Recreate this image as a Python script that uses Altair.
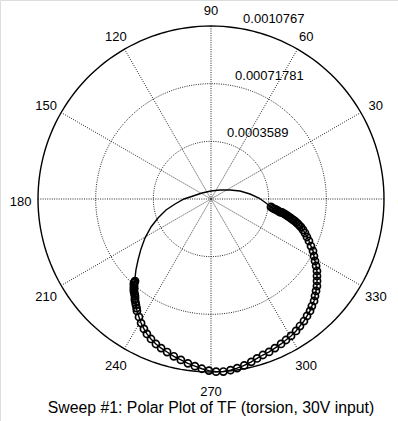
import altair as alt
import numpy as np
import pandas as pd

# Polar plot of the measured transfer function (torsion sweep)
R_MAX = 0.0010767
RING_VALUES = [0.0003589, 0.00071781, 0.0010767]
RING_LABELS = ["0.0003589", "0.00071781", "0.0010767"]
ANGLE_TICKS = [0, 30, 60, 90, 120, 150, 180, 210, 240, 270, 300, 330]
SPOKE_ANGLES = [0, 30, 60, 90, 120, 150]

# Sweep points drawn with markers: phase (deg) and magnitude (x 1e-4)
marked_phase = [
    -7.6, -8.3, -9.0, -9.2, -9.5, -10.1, -10.7, -10.8, -11.0, -11.5,
    -12.0, -12.5, -13.0, -13.4, -13.9, -14.3, -14.7, -15.4, -16.0, -16.7,
    -17.3, -18.6, -19.9, -21.6, -23.2, -25.2, -27.0, -29.0, -30.8, -32.5,
    -34.2, -36.0, -37.7, -39.4, -41.2, -43.0, -44.7, -46.7, -48.5, -50.6,
    -52.7, -55.0, -57.2, -59.7, -62.0, -64.2, -66.8, -69.2, -71.6, -73.9,
    -76.1, -78.7, -81.2, -83.5, -85.9, -88.3, -90.7, -93.1, -95.5, -98.0,
    -100.6, -103.3, -106.0, -108.5, -110.8, -113.2, -115.4, -117.3, -119.4, -121.4,
    -123.5, -124.3, -125.3, -126.1, -127.0, -127.5, -128.1, -128.8, -129.6, -130.1,
    -130.6, -131.0, -131.5, -132.0, -132.5, -132.7, -132.8,
]
marked_mag = [
    3.765, 3.871, 3.971, 4.066, 4.164, 4.268, 4.369, 4.466, 4.562, 4.668,
    4.774, 4.877, 4.979, 5.087, 5.191, 5.298, 5.402, 5.519, 5.632, 5.750,
    5.869, 6.043, 6.224, 6.423, 6.634, 6.877, 7.126, 7.325, 7.537, 7.755,
    7.973, 8.153, 8.340, 8.533, 8.688, 8.850, 9.024, 9.155, 9.304, 9.416,
    9.547, 9.653, 9.771, 9.871, 9.939, 10.020, 10.095, 10.182, 10.232, 10.330,
    10.440, 10.560, 10.650, 10.720, 10.767, 10.750, 10.680, 10.580, 10.450, 10.330,
    10.190, 10.060, 9.908, 9.784, 9.653, 9.479, 9.298, 9.099, 8.863, 8.601,
    8.352, 8.216, 8.085, 7.973, 7.867, 7.767, 7.668, 7.593, 7.512, 7.444,
    7.369, 7.300, 7.232, 7.163, 7.095, 7.027, 6.958,
]

# Remaining part of the loop, drawn as a plain line
line_phase = [
    -133.9, -136.6, -140.1, -144.5, -149.4, -155.0, -160.3, -166.3, -172.1, 180.0,
    170.5, 146.3, 90.0, 45.0, 25.3, 15.4, 7.3, 1.2, -4.2,
]
line_mag = [
    6.821, 6.429, 5.919, 5.352, 4.774, 4.120, 3.504, 2.882, 2.259, 1.680,
    1.133, 0.672, 0.498, 0.790, 1.307, 1.873, 2.446, 2.987, 3.429,
]

TITLE = "Sweep #1: Polar Plot of TF (torsion, 30V input)"
FONT = "Liberation Sans"

# Canvas geometry (pixels)
W, H = 398, 421
CX, CY, RPX = 211, 199, 173
k = R_MAX / RPX
xdom = [-CX * k, (W - CX) * k]
ydom = [-(H - CY) * k, CY * k]
X = alt.X("x:Q", scale=alt.Scale(domain=xdom, nice=False, zero=False), axis=None)
Y = alt.Y("y:Q", scale=alt.Scale(domain=ydom, nice=False, zero=False), axis=None)
X2 = alt.X2("x2:Q")
Y2 = alt.Y2("y2:Q")

to_xy = dict(
    x="datum.r * cos(datum.a * PI / 180)",
    y="datum.r * sin(datum.a * PI / 180)",
)

GRID = dict(color="#111", strokeWidth=0.9, strokeDash=[1, 1.3])

# Grid rings
grid_angles = np.arange(0, 361, 2)
rings = pd.DataFrame(
    [{"ring": i, "r": rv, "a": a} for i, rv in enumerate(RING_VALUES) for a in grid_angles]
)
inner_rings = (
    alt.Chart(rings[rings.ring < 2])
    .transform_calculate(**to_xy)
    .mark_line(**GRID)
    .encode(x=X, y=Y, detail="ring:N", order="a:Q")
)
outer_ring = (
    alt.Chart(rings[rings.ring == 2])
    .transform_calculate(**to_xy)
    .mark_line(color="black", strokeWidth=1.4)
    .encode(x=X, y=Y, order="a:Q")
)

# Spokes through the centre
spokes = (
    alt.Chart(pd.DataFrame({"a": SPOKE_ANGLES}))
    .transform_calculate(
        x=f"{R_MAX} * cos(datum.a * PI / 180)",
        y=f"{R_MAX} * sin(datum.a * PI / 180)",
        x2=f"-{R_MAX} * cos(datum.a * PI / 180)",
        y2=f"-{R_MAX} * sin(datum.a * PI / 180)",
    )
    .mark_rule(**GRID)
    .encode(x=X, y=Y, x2=X2, y2=Y2)
)

# Angle labels
angle_labels = (
    alt.Chart(pd.DataFrame({"a": ANGLE_TICKS}))
    .transform_calculate(
        x=f"1.1 * {R_MAX} * cos(datum.a * PI / 180)",
        y=f"1.1 * {R_MAX} * sin(datum.a * PI / 180)",
        label="toString(datum.a)",
    )
    .mark_text(font=FONT, fontSize=13, color="black", align="center", baseline="middle", dy=2.5)
    .encode(x=X, y=Y, text="label:N")
)

# Ring value labels
ring_labels = (
    alt.Chart(pd.DataFrame({"r": RING_VALUES, "label": RING_LABELS, "a": [82] * 3}))
    .transform_calculate(**to_xy)
    .mark_text(font=FONT, fontSize=13, color="black", align="left", baseline="bottom", dx=8, dy=-2)
    .encode(x=X, y=Y, text="label:N")
)

# Transfer function data
n_marked = len(marked_phase)
phase = marked_phase + line_phase + [marked_phase[0]]
mag = marked_mag + line_mag + [marked_mag[0]]
tf = pd.DataFrame({
    "i": np.arange(len(phase)),
    "a": phase,
    "r": np.array(mag) * 1e-4,
    "marked": [True] * n_marked + [False] * (len(phase) - n_marked),
})

tf_line = (
    alt.Chart(tf)
    .transform_calculate(**to_xy)
    .mark_line(color="black", strokeWidth=1.4)
    .encode(x=X, y=Y, order="i:Q")
)
tf_points = (
    alt.Chart(tf[tf.marked])
    .transform_calculate(**to_xy)
    .mark_point(shape="circle", filled=False, size=50, strokeWidth=1.7, color="black", opacity=1)
    .encode(x=X, y=Y)
)

# Caption under the plot, centred on the polar axes
caption = (
    alt.Chart(pd.DataFrame({"t": [TITLE], "x": [0.0], "y": [-R_MAX]}))
    .mark_text(font=FONT, fontSize=15.8, color="black", align="center", baseline="middle", dy=36)
    .encode(x=X, y=Y, text="t:N")
)

chart = (
    alt.layer(inner_rings, spokes, outer_ring, tf_line, tf_points, angle_labels, ring_labels, caption)
    .properties(
        width=W,
        height=H,
        autosize=alt.AutoSizeParams(type="none"),
        padding=0,
    )
    .configure_view(stroke=None)
    .configure(background="white")
)

chart.save("out.html", embed_options={"renderer": "svg", "actions": False})
